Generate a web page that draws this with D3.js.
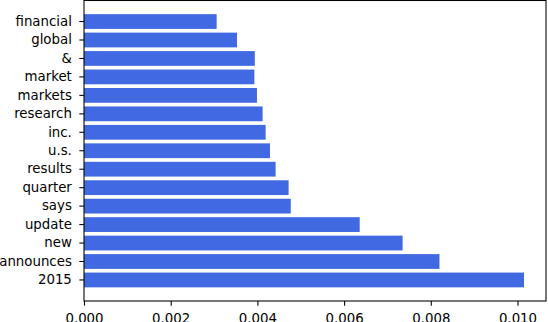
<!DOCTYPE html>
<html>
<head>
<meta charset="utf-8">
<script src="https://d3js.org/d3.v7.min.js"></script>
<style>
  body { margin: 0; background: #fff; }
  text { font-family: "DejaVu Sans", sans-serif; }
</style>
</head>
<body>
<div id="chart"></div>
<script>
// word frequencies, bottom to top
var words = ["2015", "announces", "new", "update", "says", "quarter", "results",
             "u.s.", "inc.", "research", "markets", "market", "&", "global", "financial"];
var freqs = [0.01015, 0.00820, 0.00735, 0.00636, 0.00477, 0.00472, 0.00442,
             0.00429, 0.00419, 0.00412, 0.00399, 0.00393, 0.00394, 0.00353, 0.00306];
var xTicks = [0, 0.002, 0.004, 0.006, 0.008, 0.010];

var W = 548, H = 322;
var margin = {top: 0.5, right: 2, bottom: 21, left: 84},
    width = W - margin.left - margin.right,
    height = H - margin.top - margin.bottom;

var svg = d3.select("#chart")
  .append("svg")
    .attr("width", W)
    .attr("height", H)
  .append("g")
    .attr("transform", "translate(" + margin.left + "," + margin.top + ")");

var x = d3.scaleLinear()
    .domain([0, d3.max(freqs) * 1.05])
    .range([0, width]);

var y = d3.scaleBand()
    .domain(words)
    .range([height, 0])
    .paddingInner(0.2)
    .paddingOuter(0.74);

var data = words.map(function(w, i) { return {word: w, value: freqs[i]}; });

svg.append("g")
  .selectAll("rect")
  .data(data)
  .enter().append("rect")
    .attr("x", x(0))
    .attr("y", function(d) { return y(d.word); })
    .attr("width", function(d) { return x(d.value) - x(0); })
    .attr("height", y.bandwidth())
    .attr("fill", "#4169e1");

var tickLen = 4.67, tickPad = 7.5;

var xAxis = svg.append("g")
    .attr("transform", "translate(0," + height + ")")
    .call(d3.axisBottom(x).tickValues(xTicks).tickFormat(d3.format(".3f"))
      .tickSize(tickLen).tickPadding(tickPad).tickSizeOuter(0));

var yAxis = svg.append("g")
    .call(d3.axisLeft(y).tickSize(tickLen).tickPadding(tickPad).tickSizeOuter(0));

[xAxis, yAxis].forEach(function(ax) {
  ax.select(".domain").remove();
  ax.selectAll("line").attr("stroke", "#000").attr("stroke-width", 1.07);
  ax.selectAll("text").attr("fill", "#000").style("font-size", "13.33px")
    .style("font-family", "DejaVu Sans, sans-serif");
});

// frame
svg.append("rect")
    .attr("x", 0)
    .attr("y", 0)
    .attr("width", width)
    .attr("height", height)
    .attr("fill", "none")
    .attr("stroke", "#000")
    .attr("stroke-width", 1.07);
</script>
</body>
</html>
